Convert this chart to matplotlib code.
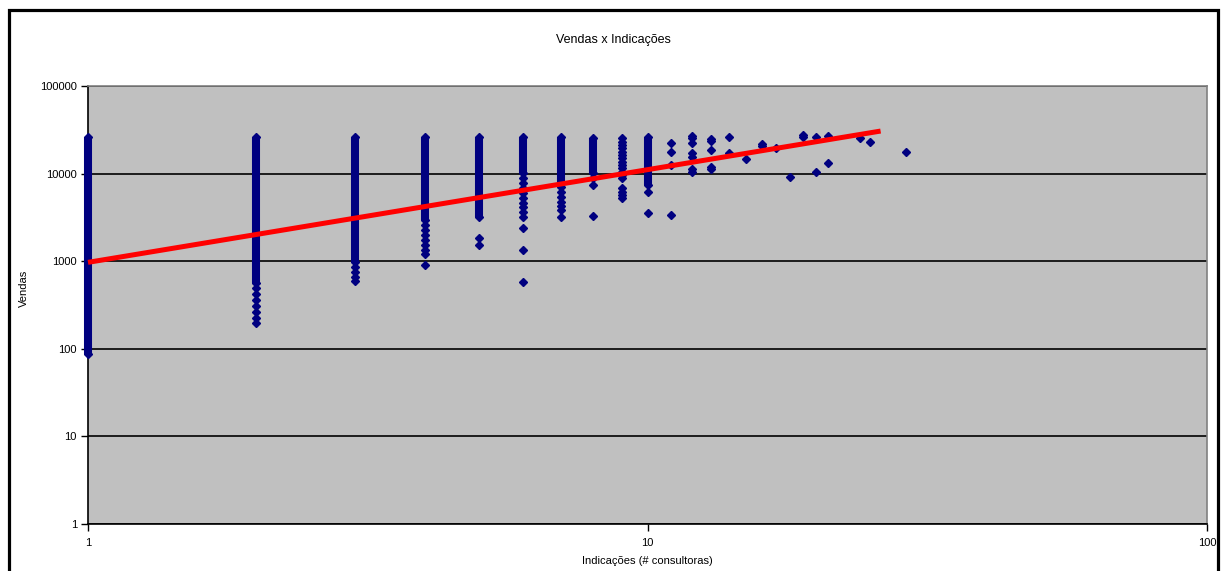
import matplotlib.pyplot as plt
from matplotlib.patches import Rectangle
from matplotlib.ticker import FixedLocator, FixedFormatter, NullLocator

plt.rcParams["font.family"] = ["Liberation Sans", "DejaVu Sans"]

titulo = "Vendas x Indicações"
rotulo_x = "Indicações (# consultoras)"
rotulo_y = "Vendas"

ticks_x = [1, 10, 100]
ticks_y = [1, 10, 100, 1000, 10000, 100000]

# colunas onde os pontos ficam tao juntos que viram uma barra
faixa_x = [1, 2, 3, 4, 5, 6, 7, 8, 10]
faixa_min = [88, 560, 980, 2950, 3200, 10200, 8000, 10200, 7400]
faixa_max = [26000, 26000, 26000, 26000, 26000, 26000, 26000, 25500, 26000]

# pontos isolados (x = indicacoes, y = vendas)
pontos_x = [
    2, 2, 2, 2, 2, 2, 2,
    3, 3, 3, 3,
    4, 4, 4, 4, 4, 4, 4, 4,
    5, 5,
    6, 6, 6, 6, 6, 6, 6, 6, 6, 6, 6, 6,
    7, 7, 7, 7, 7, 7, 7,
    8, 8, 8,
    9, 9, 9, 9, 9, 9, 9, 9, 9, 9, 9, 9, 9, 9, 9, 9, 9,
    10, 10,
    11, 11, 11, 11,
    12, 12, 12, 12, 12, 12, 12,
    13, 13, 13, 13, 13,
    14, 14,
    15,
    16, 16,
    17,
    18,
    19, 19,
    20, 20,
    21, 21,
    24, 25, 29,
]
pontos_y = [
    494, 422, 361, 308, 263, 225, 197,
    860, 753, 661, 594,
    2590, 2270, 1990, 1750, 1530, 1340, 1210, 905,
    1840, 1530,
    8900, 7810, 6850, 6010, 5270, 4620, 4160, 3650, 3200, 2390, 1340, 579,
    7030, 6170, 5410, 4740, 4270, 3840, 3200,
    8900, 7410, 3280,
    25500, 22900, 21200, 19600, 17600, 16300, 15100, 13600, 12500, 11600,
    10400, 9640, 8900, 6850, 6170, 5700, 5270,
    6170, 3550,
    22400, 17600, 12500, 3370,
    26900, 25500, 22400, 17200, 15500, 11300, 10400,
    25000, 23500, 18600, 11900, 11300,
    26200, 17200,
    14700,
    21500, 20500,
    19600,
    9100,
    27500, 26200,
    26200, 10400,
    26900, 13200,
    25500, 22900, 17600,
]

# linha de tendencia (potencia) - extremos
tendencia_x = [1, 26.1]
tendencia_y = [970, 30600]

azul = "#000080"

fig = plt.figure(figsize=(12.26, 5.71), dpi=100)
fig.patch.set_facecolor("white")
ax = fig.add_axes([88 / 1226, 1 - 524 / 571, (1207 - 88) / 1226, (524 - 86) / 571])
ax.set_facecolor("#C0C0C0")

ax.set_xscale("log")
ax.set_yscale("log")
ax.set_xlim(1, 100)
ax.set_ylim(1, 100000)

ax.vlines(faixa_x, faixa_min, faixa_max, color=azul, lw=5.8, zorder=3, clip_on=False)
ax.plot(faixa_x, faixa_min, ls="none", marker="D", ms=4.2, color=azul, zorder=3, clip_on=False)
ax.plot(faixa_x, faixa_max, ls="none", marker="D", ms=4.2, color=azul, zorder=3, clip_on=False)
ax.plot(pontos_x, pontos_y, ls="none", marker="D", ms=4.2, color=azul, zorder=3)

ax.plot(tendencia_x, tendencia_y, color="#FF0000", lw=3.6, zorder=4,
        solid_capstyle="butt", clip_on=False)

ax.xaxis.set_major_locator(FixedLocator(ticks_x))
ax.xaxis.set_major_formatter(FixedFormatter([str(t) for t in ticks_x]))
ax.yaxis.set_major_locator(FixedLocator(ticks_y))
ax.yaxis.set_major_formatter(FixedFormatter([str(t) for t in ticks_y]))
ax.xaxis.set_minor_locator(NullLocator())
ax.yaxis.set_minor_locator(NullLocator())

ax.yaxis.grid(True, which="major", color="black", lw=1.2)
ax.set_axisbelow(True)

ax.tick_params(axis="both", which="major", direction="out", length=5, width=1,
               labelsize=8, colors="black")
ax.tick_params(axis="x", pad=5)
ax.tick_params(axis="y", pad=3)

for lado in ["left", "bottom"]:
    ax.spines[lado].set_color("black")
    ax.spines[lado].set_linewidth(1.2)
for lado in ["top", "right"]:
    ax.spines[lado].set_color("#808080")
    ax.spines[lado].set_linewidth(1.2)

fig.text(613 / 1226, 1 - 40 / 571, titulo, ha="center", va="center", fontsize=9)
fig.text(647 / 1226, 1 - 561 / 571, rotulo_x, ha="center", va="center", fontsize=8)
fig.text(24 / 1226, 1 - 288 / 571, rotulo_y, ha="center", va="center",
         rotation=90, fontsize=8)

# moldura preta em volta do grafico
fig.patches.append(Rectangle((9 / 1226, -0.1), (1218 - 9) / 1226, 1.1 - 10 / 571,
                             transform=fig.transFigure, fill=False,
                             ec="black", lw=2.3))

fig.savefig("out.png", dpi=100)
